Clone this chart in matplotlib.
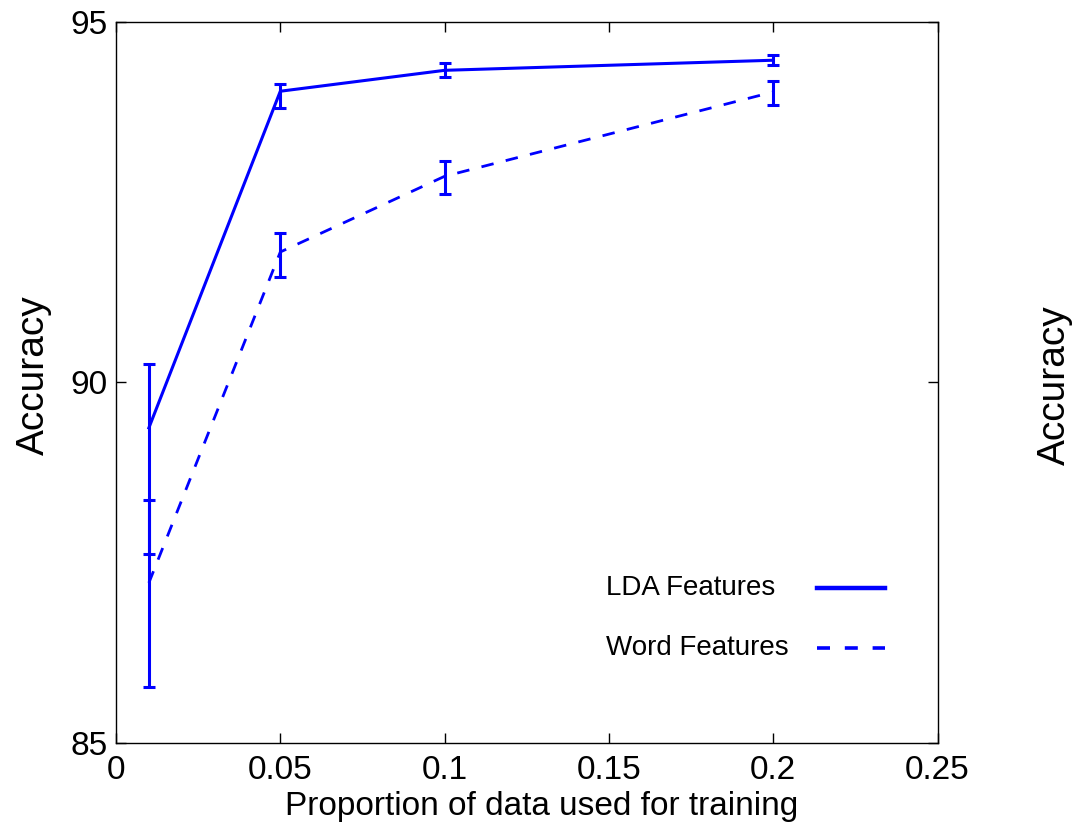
import numpy as np
import matplotlib
matplotlib.use('Agg')
from matplotlib import pyplot as plt

plt.rcParams['font.family'] = ['Liberation Sans', 'DejaVu Sans']

# training proportion
x = [0.01, 0.05, 0.1, 0.2]

# LDA features: mean, lower and upper end of error bar
lda_mean = [89.37, 94.04, 94.33, 94.47]
lda_low = [87.62, 93.81, 94.24, 94.40]
lda_high = [90.26, 94.14, 94.43, 94.54]

# word features
word_mean = [87.22, 91.81, 92.86, 94.03]
word_low = [85.78, 91.46, 92.62, 93.85]
word_high = [88.37, 92.08, 93.07, 94.18]

xticks = [0, 0.05, 0.1, 0.15, 0.2, 0.25]
xticklabels = ['0', '0.05', '0.1', '0.15', '0.2', '0.25']
yticks = [85, 90, 95]
labels = ['LDA Features', 'Word Features']

fig = plt.figure(figsize=(10.74, 8.31), dpi=100)
ax = fig.add_axes([0.108, 0.106, 0.765, 0.8675])

blue = (0, 0, 1)
dash = (0, (4.5, 4.5))
lda_err = [np.subtract(lda_mean, lda_low), np.subtract(lda_high, lda_mean)]
word_err = [np.subtract(word_mean, word_low), np.subtract(word_high, word_mean)]

ax.errorbar(x, lda_mean, yerr=lda_err, color=blue, lw=2.2, elinewidth=2.2,
            capsize=4.3, capthick=2.2)
ax.errorbar(x, word_mean, yerr=word_err, color=blue, lw=2.0, ls=dash,
            elinewidth=2.2, capsize=4.3, capthick=2.2)

ax.set_xlim(0, 0.25)
ax.set_ylim(85, 95)
ax.set_xticks(xticks)
ax.set_xticklabels(xticklabels)
ax.set_yticks(yticks)
ax.tick_params(direction='in', length=7.5, width=1, labelsize=24,
               top=True, right=True)
ax.tick_params(axis='x', pad=9)
ax.tick_params(axis='y', pad=6)
for s in ax.spines.values():
    s.set_linewidth(1)

ax.set_xlabel('Proportion of data used for training', fontsize=24)
ax.xaxis.label.set_va('baseline')
ax.xaxis.set_label_coords(0.5176, -0.0999)
ax.set_ylabel('Accuracy', fontsize=28)
ax.yaxis.set_label_coords(-0.078, 0.51)

# legend: text left aligned, sample line to the right
styles = [dict(lw=3.2, ls='-'), dict(lw=2.6, ls=(0, (3.6, 4.1)))]
rows = [0.215, 0.132]
for lab, st, yy in zip(labels, styles, rows):
    ax.text(0.597, yy, lab, transform=ax.transAxes, fontsize=20,
            ha='left', va='center')
    ax.plot([0.853, 0.9355], [yy, yy], transform=ax.transAxes, color=blue, **st)

# label from the neighbouring panel, cut off at the edge
fig.text(0.982, 0.537, 'Accuracy', rotation=90, fontsize=28, ha='center', va='center')

fig.savefig('out.png', dpi=100)
